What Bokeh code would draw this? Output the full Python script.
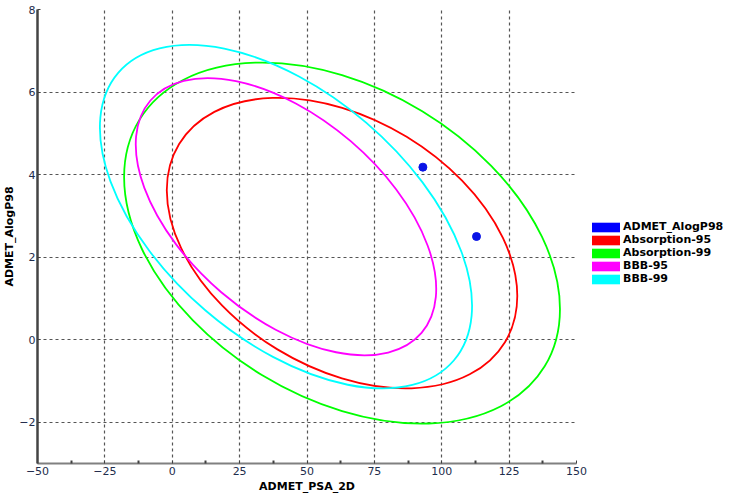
from bokeh.plotting import figure
from bokeh.models import Legend, LegendItem, FixedTicker, Range1d
from bokeh.embed import file_html
from bokeh.resources import INLINE

# ---- data ----
point_x = [93.0, 112.9]
point_y = [4.18, 2.50]

ellipse_names = ["Absorption-95", "Absorption-99", "BBB-95", "BBB-99"]
ellipse_cx = [63.0, 63.0, 42.2, 42.2]
ellipse_cy = [2.34, 2.34, 2.98, 2.98]
ellipse_w = [141.5, 176.0, 132.5, 164.0]
ellipse_h = [6.03, 7.48, 4.82, 5.99]
ellipse_angle = [-31.3, -31.3, -40.6, -40.6]
ellipse_colors = ["#ff0000", "#00ff00", "#ff00ff", "#00ffff"]

x_ticks = [-50, -25, 0, 25, 50, 75, 100, 125, 150]
x_minor_ticks = [-37.5, -12.5, 12.5, 37.5, 62.5, 87.5, 112.5, 137.5]
y_ticks = [-2, 0, 2, 4, 6, 8]

p = figure(frame_width=539, frame_height=454,
           x_range=Range1d(-50, 150), y_range=Range1d(-3, 8),
           output_backend="svg", toolbar_location=None,
           min_border_top=9, min_border_left=0, min_border_right=150,
           min_border_bottom=0)
p.outline_line_color = None

# grid
p.xgrid.ticker = FixedTicker(ticks=x_ticks)
p.ygrid.ticker = FixedTicker(ticks=y_ticks)
for g in (p.xgrid, p.ygrid):
    g.grid_line_color = "#555555"
    g.grid_line_dash = "3 3"
    g.grid_line_width = 1.2

# axes
p.xaxis.ticker = FixedTicker(ticks=x_ticks, minor_ticks=x_minor_ticks)
p.yaxis.ticker = FixedTicker(ticks=y_ticks)
for ax in (p.xaxis, p.yaxis):
    ax.major_label_text_font = "DejaVu Sans"
    ax.major_label_text_font_size = "11px"
    ax.major_label_text_color = "#1e2d4d"
    ax.axis_label_text_font = "DejaVu Sans"
    ax.axis_label_text_font_style = "bold"
    ax.axis_label_text_font_size = "11px"
    ax.axis_label_text_color = "black"
    ax.major_tick_out = 0
    ax.major_tick_in = 3
    ax.minor_tick_out = 0
    ax.minor_tick_in = 3
p.xaxis.major_label_standoff = 3
p.xaxis.axis_label_standoff = 2
p.yaxis.major_label_standoff = 2
p.yaxis.axis_label_standoff = 0
p.xaxis.axis_line_color = "#808080"
p.xaxis.axis_line_width = 2
p.xaxis.major_tick_line_color = "#404040"
p.xaxis.minor_tick_line_color = "#404040"
p.xaxis.minor_tick_line_width = 2
p.yaxis.axis_line_color = "#444444"
p.yaxis.axis_line_width = 2.5
p.yaxis.major_tick_line_color = "#404040"
p.yaxis.minor_tick_line_color = None
p.xaxis.axis_label = "ADMET_PSA_2D"
p.yaxis.axis_label = "ADMET_AlogP98"

# ellipses
for cx, cy, w, h, a, c in zip(ellipse_cx, ellipse_cy, ellipse_w, ellipse_h,
                              ellipse_angle, ellipse_colors):
    p.ellipse(x=[cx], y=[cy], width=[w], height=[h], angle=[a],
              angle_units="deg", fill_color=None, line_color=c, line_width=1.8)

# points
p.scatter(x=point_x, y=point_y, size=8, marker="circle",
          fill_color="#0a14e6", line_color="#0a14e6")

# legend (filled rectangle swatches; zero-size rects only feed the legend)
legend_labels = ["ADMET_AlogP98"] + ellipse_names
legend_colors = ["#0000ff"] + ellipse_colors
legend_x = [point_x[0]] + ellipse_cx
legend_y = [point_y[0]] + ellipse_cy
items = []
for lab, col, lx, ly in zip(legend_labels, legend_colors, legend_x, legend_y):
    r = p.rect(x=[lx], y=[ly], width=0, height=0, fill_color=col,
               line_color=None)
    items.append(LegendItem(label=lab, renderers=[r]))

legend = Legend(items=items, location=(12, 178),
                label_text_font="DejaVu Sans", label_text_font_style="bold",
                label_text_font_size="11px", label_text_color="black",
                glyph_width=35, glyph_height=12, label_height=10,
                spacing=0, padding=0, margin=0, label_standoff=0,
                border_line_color=None, background_fill_alpha=0)
p.add_layout(legend, "right")

open("out.html", "w").write(file_html(p, INLINE))
